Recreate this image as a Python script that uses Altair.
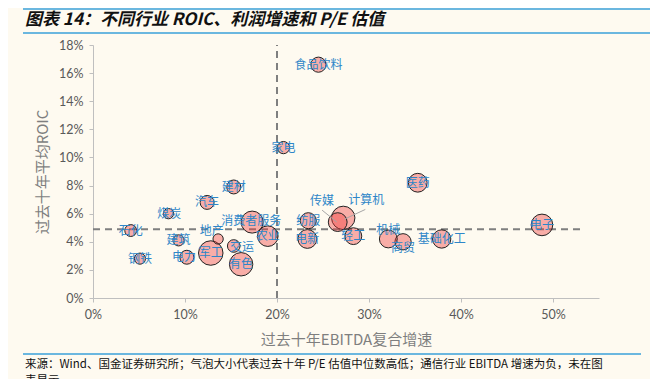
import altair as alt
import pandas as pd

industries = ["食品饮料", "家电", "医药", "电子", "基础化工", "商贸", "机械", "轻工",
              "电新", "纺服", "计算机", "传媒", "建材", "汽车", "煤炭", "石化",
              "钢铁", "建筑", "电力", "军工", "地产", "交运", "有色", "消费者服务", "农业"]
ebitda_cagr = [24.5, 20.7, 35.3, 48.8, 37.9, 33.7, 32.1, 28.3, 23.3, 23.4, 27.2, 26.6,
               15.3, 12.4, 8.2, 4.1, 5.1, 9.3, 10.2, 12.8, 13.6, 15.3, 16.1, 17.3, 19.0]
roic = [16.6, 10.7, 8.2, 5.2, 4.2, 4.0, 4.2, 4.4, 4.2, 5.5, 5.7, 5.4,
        7.9, 6.8, 6.0, 4.8, 2.8, 4.1, 2.9, 3.2, 4.2, 3.7, 2.4, 5.4, 4.4]
pe_median = [26, 17, 40, 53, 38, 30, 36, 32, 40, 29, 62, 40,
             22, 22, 12, 16, 14, 14, 22, 68, 12, 18, 62, 55, 48]
label_x = [24.5, 20.7, 35.3, 48.8, 37.9, 33.7, 32.1, 28.3, 23.3, 23.4, 29.7, 24.9,
           15.3, 12.4, 8.3, 4.1, 5.1, 9.3, 9.9, 12.8, 12.9, 16.2, 16.1, 17.2, 19.0]
label_y = [16.6, 10.7, 8.2, 5.2, 4.2, 3.56, 4.84, 4.4, 4.2, 5.5, 7.0, 6.9,
           7.9, 6.8, 6.0, 4.8, 2.8, 4.1, 2.9, 3.2, 4.77, 3.63, 2.4, 5.45, 4.4]

# leader lines (label -> bubble) for 传媒 / 计算机
leader_names = ["传媒", "计算机"]
leader_x1 = [24.9, 29.6]
leader_y1 = [6.25, 6.3]
leader_x2 = [26.5, 27.3]
leader_y2 = [5.4, 5.6]

# axis ticks
x_ticks = [0, 10, 20, 30, 40, 50]
y_ticks = [0, 2, 4, 6, 8, 10, 12, 14, 16, 18]

# average reference lines
avg_cagr = 20.0
avg_roic = 4.9
hline_end = 53.0

df = pd.DataFrame({
    "industry": industries,
    "cagr": [v / 100 for v in ebitda_cagr],
    "roic": [v / 100 for v in roic],
    "pe": pe_median,
    "lx": [v / 100 for v in label_x],
    "ly": [v / 100 for v in label_y],
})
lead = pd.DataFrame({
    "name": leader_names,
    "x1": [v / 100 for v in leader_x1], "y1": [v / 100 for v in leader_y1],
    "x2": [v / 100 for v in leader_x2], "y2": [v / 100 for v in leader_y2],
})
refs = pd.DataFrame({"vx": [avg_cagr / 100], "hy": [avg_roic / 100],
                     "h0": [0.0], "h1": [hline_end / 100], "v0": [0.0], "v1": [0.18]})

W, H = 506, 253
xs = alt.Scale(domain=[0, 0.55], nice=False)
ys = alt.Scale(domain=[0, 0.18], nice=False)
GRAY = "#7F7F7F"
BLUE = "#2E86C8"
CJK = "Noto Sans CJK SC"

x_axis = alt.Axis(title="过去十年EBITDA复合增速", format=".0%", values=[v / 100 for v in x_ticks],
                  labelOverlap=False, labelFlush=False, titlePadding=12)
y_axis = alt.Axis(title="过去十年平均ROIC", format=".0%", values=[v / 100 for v in y_ticks],
                  labelOverlap=False, labelFlush=False, titlePadding=8)

vline = alt.Chart(refs).mark_rule(color=GRAY, strokeWidth=2, strokeDash=[7, 5]).encode(
    x=alt.X("vx:Q", scale=xs, axis=x_axis), y=alt.Y("v0:Q", scale=ys, axis=y_axis), y2="v1:Q")
hline = alt.Chart(refs).mark_rule(color=GRAY, strokeWidth=2, strokeDash=[7, 5]).encode(
    x=alt.X("h0:Q", scale=xs, axis=x_axis), x2="h1:Q", y=alt.Y("hy:Q", scale=ys, axis=y_axis))

bubbles = alt.Chart(df).mark_circle(fill="#F03A3A", fillOpacity=0.4, stroke="#222222",
                                    strokeWidth=1, strokeOpacity=1).encode(
    x=alt.X("cagr:Q", scale=xs, axis=x_axis),
    y=alt.Y("roic:Q", scale=ys, axis=y_axis),
    size=alt.Size("pe:Q", scale=alt.Scale(domain=[0, 68], range=[0, 600], zero=True), legend=None),
)

leaders = alt.Chart(lead).mark_rule(color="#A6A6A6", strokeWidth=1).encode(
    x=alt.X("x1:Q", scale=xs, axis=x_axis), y=alt.Y("y1:Q", scale=ys, axis=y_axis),
    x2="x2:Q", y2="y2:Q")

labels = alt.Chart(df).mark_text(font=CJK, fontSize=12, color=BLUE, baseline="middle",
                                 align="center").encode(
    x=alt.X("lx:Q", scale=xs, axis=x_axis), y=alt.Y("ly:Q", scale=ys, axis=y_axis),
    text="industry:N")

one = alt.Data(values=[{}])
title = alt.Chart(one).mark_text(text="图表 14：不同行业 ROIC、利润增速和 P/E 估值", font=CJK, fontSize=17,
                                 fontWeight="bold", fontStyle="italic", color="#111111",
                                 align="left", baseline="middle").encode(
    x=alt.value(-68), y=alt.value(-25))
line_top = alt.Chart(one).mark_rule(color="#3AA0DA", strokeWidth=1.5).encode(
    x=alt.value(-70), x2=alt.value(565), y=alt.value(-36))
line_mid = alt.Chart(one).mark_rule(color="#3AA0DA", strokeWidth=1.5).encode(
    x=alt.value(-70), x2=alt.value(565), y=alt.value(-12))
line_bot = alt.Chart(one).mark_rule(color="#3AA0DA", strokeWidth=1.5).encode(
    x=alt.value(-70), x2=alt.value(548), y=alt.value(309))
foot1 = alt.Chart(one).mark_text(
    text="来源：Wind、国金证券研究所；气泡大小代表过去十年 P/E 估值中位数高低；通信行业 EBITDA 增速为负，未在图",
    font=CJK, fontSize=11.5, color="#111111", align="left", baseline="middle").encode(
    x=alt.value(-68), y=alt.value(320))
foot2 = alt.Chart(one).mark_text(text="表显示", font=CJK, fontSize=11.5, color="#111111",
                                 align="left", baseline="middle").encode(
    x=alt.value(-68), y=alt.value(336))

chart = alt.layer(vline, hline, bubbles, leaders, labels, title, line_top, line_mid, line_bot,
                  foot1, foot2).properties(
    width=W, height=H,
    autosize=alt.AutoSizeParams(type="none"),
    padding={"left": 85, "top": 37, "right": 51, "bottom": 90},
    background="#FEFAF0",
).configure_view(stroke=None).configure_axis(
    grid=False, domainColor="#BFBFBF", tickColor="#BFBFBF", tickSize=4,
    labelColor="#595959", labelFont="Lato", labelFontSize=12.5, labelPadding=6,
    labelOverlap=False, labelFlush=False,
    titleFont=CJK, titleFontSize=15, titleColor="#7F7F7F", titleFontWeight="normal",
)

chart.save("out.html", embed_options={"renderer": "svg", "actions": False})
